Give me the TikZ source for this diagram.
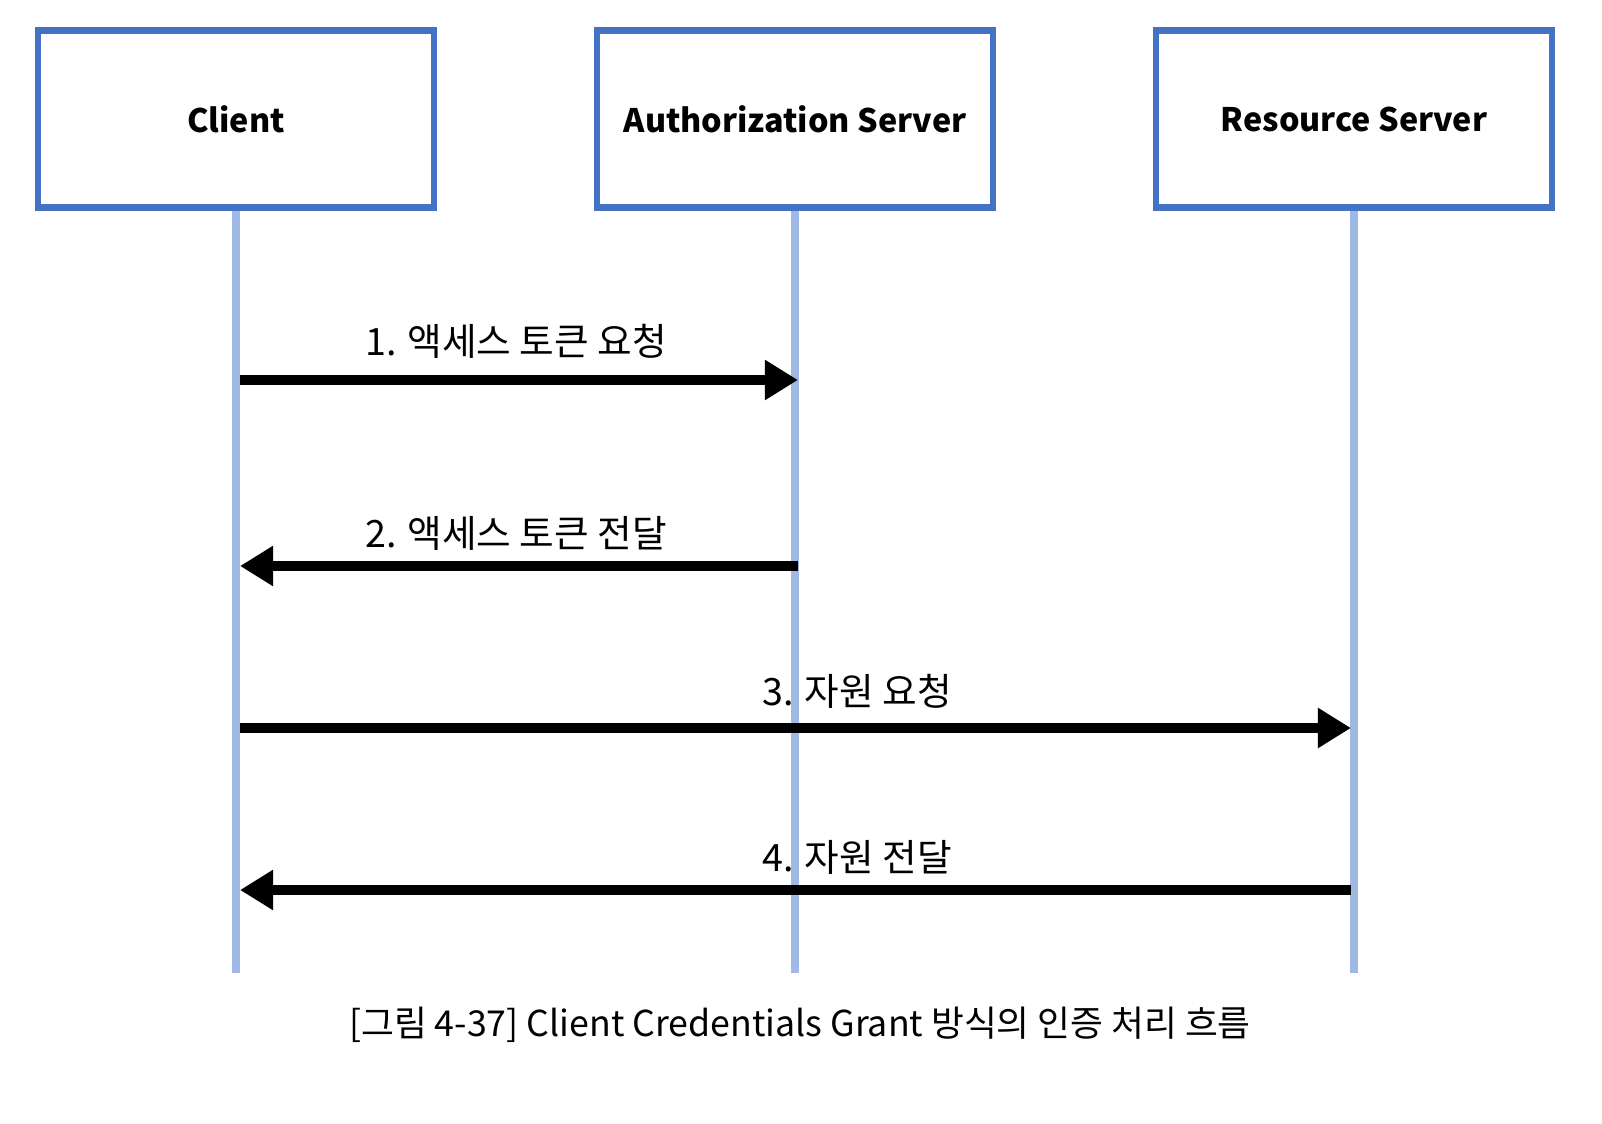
\documentclass[tikz,border=0pt]{standalone}
\usepackage{fontspec}
\setmainfont{Noto Sans CJK KR}
\usetikzlibrary{arrows.meta}
\definecolor{boxblue}{HTML}{4472C4}
\definecolor{lifeblue}{HTML}{A0B9E4}
\tikzset{
	actor/.style={draw=boxblue, line width=1.85pt, fill=white, minimum width=3.96cm, minimum height=1.77cm, font=\fontsize{9.2}{11}\selectfont\bfseries},
	life/.style={draw=lifeblue, line width=2pt},
	msg/.style={line width=2.7pt, -{Triangle[length=0.33cm, width=0.38cm]}},
	lbl/.style={anchor=base, inner sep=0pt, font=\fontsize{10.7}{12}\selectfont}
}

\begin{document}
\begin{tikzpicture}[x=0.01cm, y=-0.01cm]
			\useasboundingbox (0,0) rectangle (1602,1124);
			\node[actor] (v1) at (236,119) {Client};
			\node[actor] (v2) at (795,119) {Authorization Server};
			\node[actor] (v3) at (1354,119) {Resource Server};
			\coordinate (e1) at (236,973);
			\coordinate (e2) at (795,973);
			\coordinate (e3) at (1354,973);
			\draw[life] (v1) -- (e1) (v2) -- (e2) (v3) -- (e3);
			\coordinate (a1) at (240,380); \coordinate (b1) at (798,380);
			\coordinate (a2) at (240,566); \coordinate (b2) at (798,566);
			\coordinate (a3) at (240,728); \coordinate (b3) at (1351,728);
			\coordinate (a4) at (240,890); \coordinate (b4) at (1351,890);
			\draw[msg] (a1) -- (b1);
			\draw[msg] (b2) -- (a2);
			\draw[msg] (a3) -- (b3);
			\draw[msg] (b4) -- (a4);
			\node[lbl] (l1) at (516,355) {1. 액세스 토큰 요청};
			\node[lbl] (l2) at (516,547) {2. 액세스 토큰 전달};
			\node[lbl] (l3) at (857,705) {3. 자원 요청};
			\node[lbl] (l4) at (857,871) {4. 자원 전달};
			\node[lbl, font=\fontsize{10.15}{12}\selectfont] (cap) at (800,1036) {[그림 4-37] Client Credentials Grant 방식의 인증 처리 흐름};
		\end{tikzpicture}
\end{document}
